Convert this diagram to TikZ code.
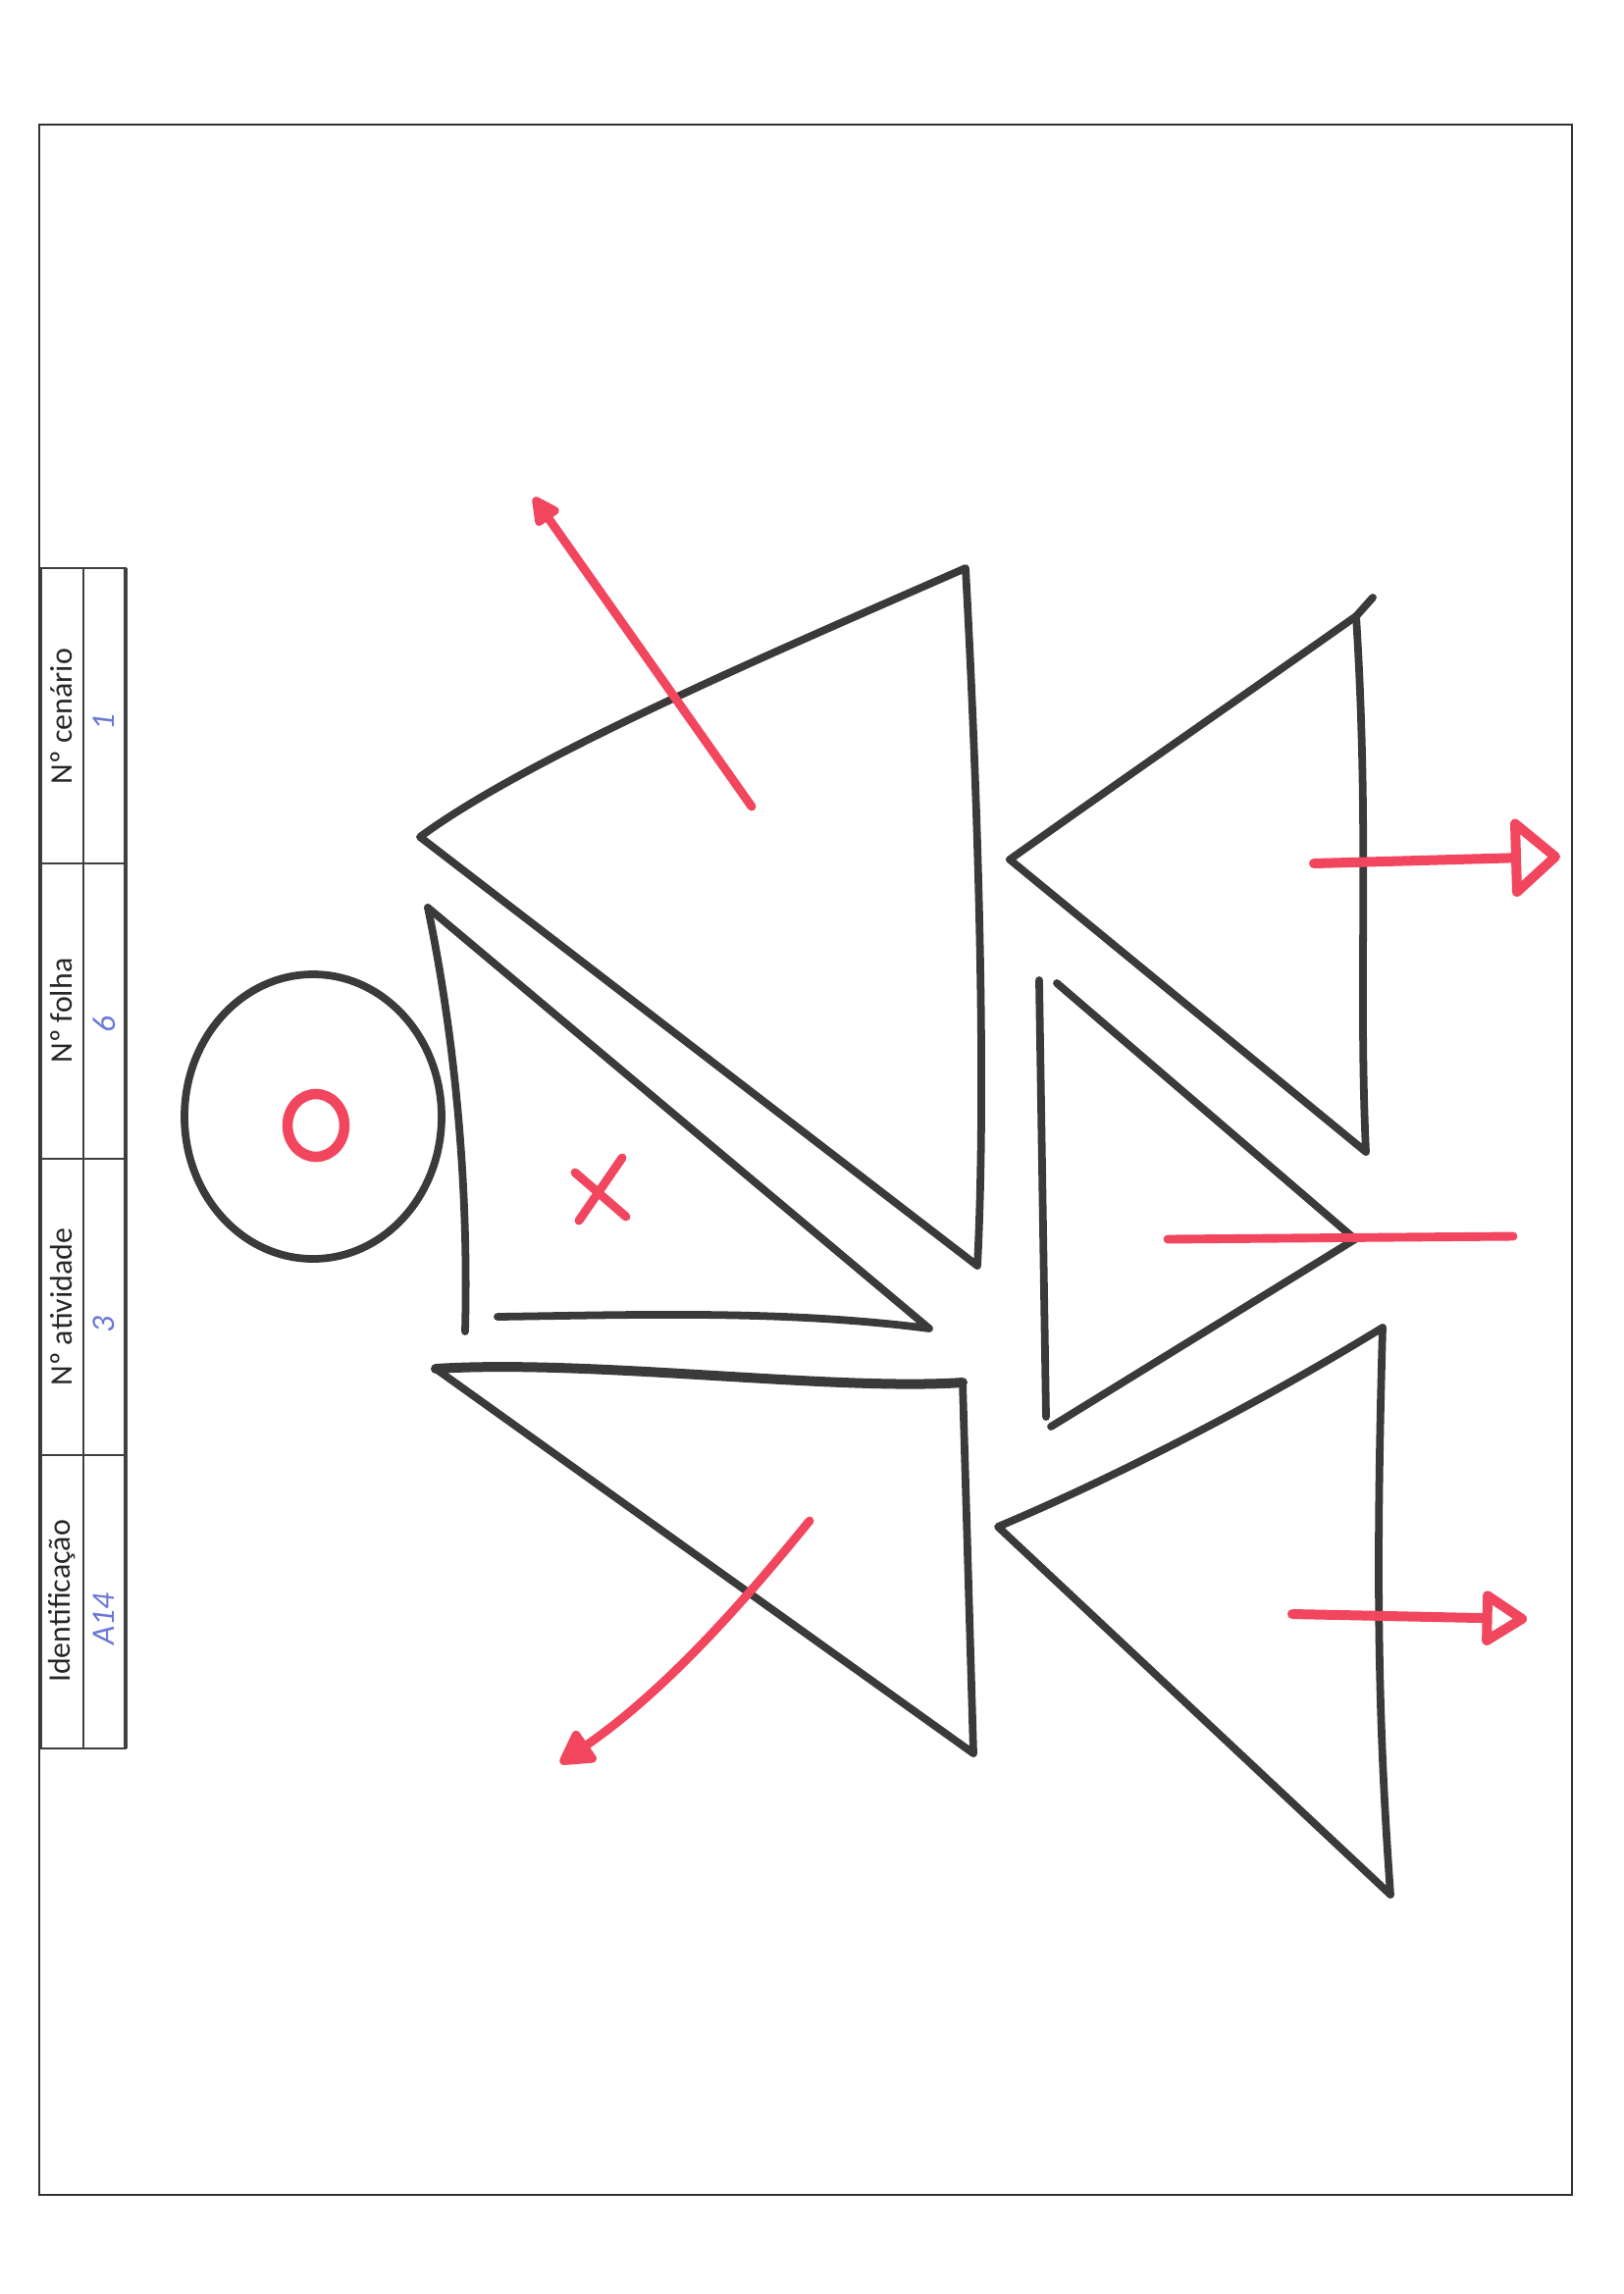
\documentclass[tikz,border=0pt]{standalone}
\usepackage{fontspec}
\setmainfont{Carlito}
\usetikzlibrary{arrows.meta}
\definecolor{inkgray}{HTML}{3A3A3A}
\definecolor{markred}{HTML}{F2455E}
\definecolor{handblue}{HTML}{6B78D6}

\begin{document}
\begin{tikzpicture}[
    x=0.36pt, y=-0.36pt,
    pen/.style={draw=inkgray, line width=2.8pt, line cap=round, line join=round},
    redpen/.style={draw=markred, line width=3.2pt, line cap=round, line join=round},
    frame/.style={draw=black!80, line width=0.8pt},
    rule/.style={draw=black!75, line width=0.6pt},
    label/.style={rotate=90, font=\fontsize{11.5}{13}\selectfont, text=black!85},
    hand/.style={rotate=90, font=\fontsize{12}{14}\selectfont\itshape, text=handblue}
]
\useasboundingbox (0,0) rectangle (1654,2338);

% sheet and form
\draw[frame] (40,127) rectangle (1602,2237);
\draw[rule] (42,579) rectangle (128,1782);
\draw[rule, line width=1.2pt] (128,579) -- (128,1782);
\draw[rule] (85,579) -- (85,1782);
\foreach \y in {880,1181,1483}
  \draw[rule] (42,\y) -- (128,\y);

\node[label] (ident)    at (63,1632) {Identificação};
\node[label] (activity) at (63,1332) {Nº atividade};
\node[label] (sheet)    at (63,1030) {Nº folha};
\node[label] (scenario) at (63,730)  {Nº cenário};

\node[hand] (identval)    at (106,1650) {A14};
\node[hand] (activityval) at (106,1350) {3};
\node[hand] (sheetval)    at (106,1044) {6};
\node[hand] (scenarioval) at (106,736)  {1};

% head
\draw[pen] (319,1138) ellipse [x radius=131, y radius=145];
\draw[redpen, line width=3.8pt] (322,1147) ellipse [x radius=29, y radius=32];

% left column of triangles
\draw[pen] (428,853) .. controls (540,770) and (800,660) .. (984,579)
  .. controls (996,800) and (1006,1100) .. (996,1290) -- cycle;
\draw[pen] (436,925) .. controls (462,1050) and (478,1200) .. (474,1357);
\draw[pen] (436,925) -- (947,1354) .. controls (800,1335) and (650,1340) .. (507,1342);
\draw[redpen] (634,1180) -- (590,1244);
\draw[redpen] (586,1195) -- (638,1240);
\draw[pen, line width=3.6pt] (444,1395) .. controls (600,1385) and (850,1418) .. (981,1409);
\draw[pen] (981,1409) -- (992,1787) -- (444,1395);

% right column of triangles
\draw[pen] (1029,876) .. controls (1150,790) and (1280,700) .. (1382,628) -- (1399,609);
\draw[pen] (1382,628) .. controls (1396,850) and (1384,1000) .. (1392,1174) -- (1029,876);
\draw[pen] (1059,999) -- (1066,1444);
\draw[pen] (1077,1002) -- (1381,1263) -- (1071,1454);
\draw[pen] (1017,1556) .. controls (1150,1500) and (1300,1420) .. (1409,1353)
  .. controls (1402,1600) and (1404,1750) .. (1417,1931) -- cycle;

% red marks
\coordinate (tlstart) at (766,822);
\coordinate (tlend) at (544,507);
\draw[redpen, -{Triangle[length=12pt, width=11pt, round]}] (tlstart) -- (tlend);
\coordinate (trstart) at (1339,880);
\coordinate (trend) at (1590,873);
\draw[redpen, line width=3.6pt, -{Triangle[open, length=19pt, width=32pt, round]}] (trstart) -- (trend);
\coordinate (mrstart) at (1190,1263);
\coordinate (mrend) at (1542,1260);
\draw[redpen] (mrstart) -- (mrend);
\coordinate (brstart) at (1317,1645);
\coordinate (brend) at (1556,1650);
\draw[redpen, line width=3.6pt, -{Triangle[open, length=18pt, width=22pt, round]}] (brstart) -- (brend);
\coordinate (blstart) at (825,1550);
\coordinate (blend) at (571,1797);
\draw[redpen, -{Triangle[length=14pt, width=15pt, round]}] (blstart) .. controls (780,1605) and (690,1715) .. (blend);

\end{tikzpicture}
\end{document}
